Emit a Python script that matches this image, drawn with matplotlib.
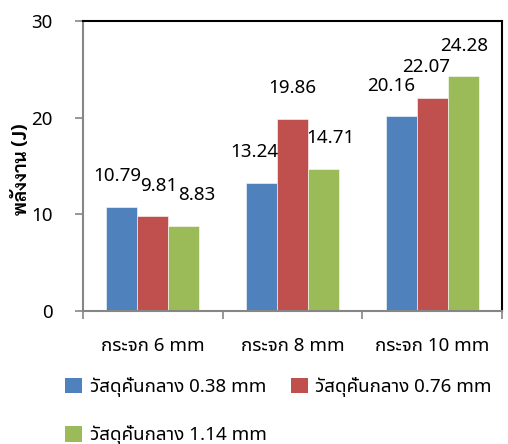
import matplotlib
matplotlib.use("Agg")
import matplotlib.pyplot as plt
import numpy as np
from matplotlib.patches import Patch

plt.rcParams['font.family'] = ['Noto Sans Thai UI', 'Noto Sans', 'DejaVu Sans']

categories = ["กระจก 6 mm", "กระจก 8 mm", "กระจก 10 mm"]
series_names = ["วัสดุคั่นกลาง 0.38 mm", "วัสดุคั่นกลาง 0.76 mm", "วัสดุคั่นกลาง 1.14 mm"]
energy_038 = [10.79, 13.24, 20.16]
energy_076 = [9.81, 19.86, 22.07]
energy_114 = [8.83, 14.71, 24.28]
y_label = "พลังงาน (J)"
y_ticks = [0, 10, 20, 30]

colors = ["#4F81BD", "#C0504D", "#9BBB59"]
# small horizontal nudges (points) so neighbouring value labels do not collide
label_nudge = [[-3, -5, -7], [4, 0, -4], [9, 5, 1]]

series = [energy_038, energy_076, energy_114]
FS = 13.5

fig = plt.figure(figsize=(5.08, 4.44), dpi=100)
ax = fig.add_axes([83 / 508, 1 - 311 / 444, 419 / 508, 290 / 444])

x = np.arange(len(categories))
bw = 0.222
for i, (vals, col) in enumerate(zip(series, colors)):
    xs = x + (i - 1) * bw
    bars = ax.bar(xs, vals, width=bw, color=col, edgecolor="white", linewidth=0.4)
    for j, (b, v) in enumerate(zip(bars, vals)):
        ax.annotate(f"{v:.2f}", (b.get_x() + b.get_width() / 2, v),
                    xytext=(label_nudge[i][j], 22), textcoords="offset points",
                    ha="center", va="center", fontsize=FS)

ax.set_xlim(-0.5, len(categories) - 0.5)
ax.set_ylim(0, 30)
ax.set_yticks(y_ticks)
ax.set_yticklabels([str(t) for t in y_ticks], fontsize=FS)
ax.tick_params(axis="y", direction="out", length=6, width=1.2, color="#868686", pad=16)

ax.set_xticks(np.arange(len(categories) + 1) - 0.5)
ax.set_xticklabels([])
ax.set_xticks(x, minor=True)
ax.set_xticklabels(categories, minor=True, fontsize=FS)
ax.tick_params(axis="x", which="major", direction="out", length=6, width=1.2, color="#868686")
ax.tick_params(axis="x", which="minor", length=0, pad=19)

for s in ["left", "bottom"]:
    ax.spines[s].set_color("#868686")
    ax.spines[s].set_linewidth(1.5)
for s in ["top", "right"]:
    ax.spines[s].set_color("black")
    ax.spines[s].set_linewidth(1.5)

ax.set_ylabel(y_label, fontsize=13.5, fontweight="bold", family=["Sarabun", "DejaVu Sans"])
ax.yaxis.set_label_coords(-0.125, 0.49)

# row-wise legend order: first row 0.38 / 0.76, second row 1.14
handles = [Patch(facecolor=c, edgecolor="none") for c in colors]
order = [0, 2, 1]
fig.legend([handles[k] for k in order], [series_names[k] for k in order],
           loc="upper left", bbox_to_anchor=(52 / 508, 1 - 364 / 444),
           ncol=2, frameon=False, fontsize=FS, handlelength=0.9, handleheight=0.9,
           handletextpad=0.4, columnspacing=1.3, labelspacing=1.5, borderpad=0.2)

fig.savefig("out.png", dpi=100)
